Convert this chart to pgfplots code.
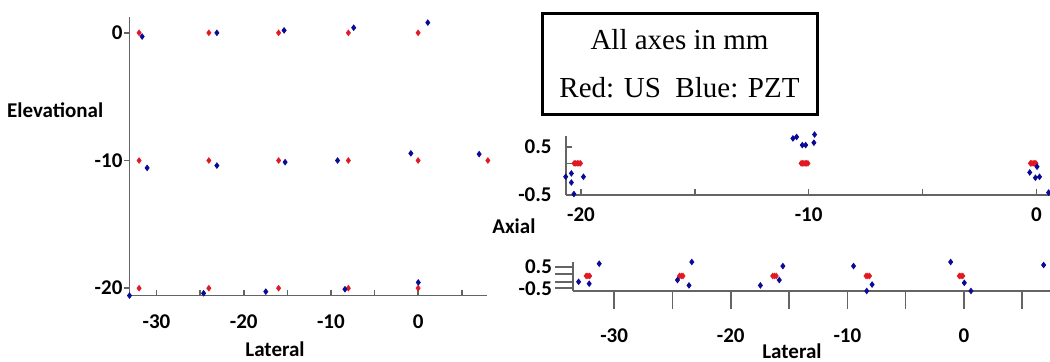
\documentclass[border=0pt]{standalone}
\usepackage{pgfplots}
\pgfplotsset{compat=1.18}
\usepackage{fontspec}
\setmainfont{Liberation Serif}
\newfontfamily\calfont{Carlito}
\definecolor{ured}{RGB}{225,25,35}
\definecolor{pblue}{RGB}{10,10,150}
\definecolor{axgray}{RGB}{100,100,100}
\pgfplotsset{
  base/.style={
    scale only axis, clip=false,
    axis x line*=bottom, axis y line*=left,
    axis line style={axgray, line width=0.8pt},
    tick style={axgray, line width=0.8pt},
    tick align=inside,
    major tick length=3pt, minor tick length=3pt,
    tick label style={font=\calfont\bfseries\fontsize{10.5}{12}\selectfont},
    label style={font=\calfont\bfseries\fontsize{10.5}{12}\selectfont},
  },
  us/.style={only marks, mark=diamond*, mark size=1.35pt, color=ured},
  pzt/.style={only marks, mark=diamond*, mark size=1.35pt, color=pblue},
}
\begin{document}
\begin{tikzpicture}
\useasboundingbox (0,0) rectangle (525pt,181pt);
% ---------------- left panel: Lateral vs Elevational
\begin{axis}[base, at={(64.75pt,33.2pt)}, anchor=south west,
  width=178.75pt, height=139.3pt,
  xmin=-33.1, xmax=7.9, ymin=-20.58, ymax=1.24,
  xtick={-30,-20,-10,0}, xticklabels={-30,-20,-10,0},
  minor xtick={-25,-15,-5,5},
  ytick={-20,-10,0}, yticklabels={-20,-10,0},
  every major y tick/.append style={xshift=-3pt},
  xticklabel style={yshift=-6pt},
  xlabel={Lateral}, ylabel={Elevational},
  xlabel style={at={(axis description cs:0.407,-0.192)}, anchor=center},
  ylabel style={at={(axis description cs:-0.208,0.666)}, anchor=center, rotate=-90},
]
\addplot[us] coordinates {
(-32,0) (-24,0) (-16,0) (-8,0) (0,0)
(-32,-10) (-24,-10) (-16,-10) (-8,-10) (0,-10) (8,-10)
(-32,-20) (-24,-20) (-16,-20) (-8,-20) (0,-20)};
\addplot[pzt] coordinates {
(-31.65,-0.29) (-23.08,0) (-15.37,0.19) (-7.39,0.40) (1.11,0.80)
(-31.08,-10.58) (-23.08,-10.40) (-15.25,-10.13) (-9.24,-10.0) (-0.83,-9.44) (7.0,-9.5)
(-33.1,-20.58) (-24.6,-20.40) (-17.47,-20.27) (-8.39,-20.08) (0.02,-19.55)};
\end{axis}
% ---------------- top right: Elevational vs Axial
\begin{axis}[base, at={(282.85pt,83.5pt)}, anchor=south west,
  width=242.15pt, height=29.5pt,
  xmin=-20.67, xmax=0.6, ymin=-0.5, ymax=0.73,
  xtick={-20,-10,0}, xticklabels={-20,-10,0},
  minor xtick={-15,-5},
  ytick={-0.5,0.16,0.5}, yticklabels={-0.5,,0.5},
  xticklabel style={yshift=-2.6pt},
  yticklabel style={xshift=-3.5pt},
  ylabel={Axial},
  ylabel style={at={(axis description cs:-0.107,-0.525)}, anchor=center, rotate=-90},
]
\addplot[us] coordinates {
(-20.30,0.16) (-20.23,0.16) (-20.16,0.16) (-20.09,0.16) (-20.02,0.16)
(-10.33,0.16) (-10.27,0.16) (-10.21,0.16) (-10.15,0.16) (-10.09,0.16) (-10.03,0.16)
(-0.26,0.16) (-0.20,0.16) (-0.14,0.16) (-0.08,0.16) (-0.02,0.16)};
\addplot[pzt] coordinates {
(-20.67,-0.12) (-20.42,-0.05) (-20.42,-0.24) (-20.31,-0.48) (-19.89,-0.12)
(-10.69,0.68) (-10.53,0.71) (-10.28,0.54) (-10.13,0.54) (-9.74,0.76) (-9.77,0.59)
(0.03,0.09) (-0.29,-0.03) (-0.04,-0.14) (0.14,-0.12) (0.54,-0.45)};
\end{axis}
% ---------------- bottom right: Lateral vs Axial
\begin{axis}[base, at={(286.5pt,35.5pt)}, anchor=south west,
  width=238.5pt, height=14.5pt,
  xmin=-33.53, xmax=7.38, ymin=-0.63, ymax=0.72,
  tick align=outside, major tick length=9pt, minor tick length=9pt,
  xtick={-30,-20,-10,0}, xticklabels={-30,-20,-10,0},
  minor xtick={-25,-15,-5,5},
  ytick={-0.5,-0.2,0.16,0.5}, yticklabels={-0.5,,,0.5},
  xticklabel style={yshift=-6.5pt},
  yticklabel style={xshift=2pt},
  xlabel={Lateral},
  xlabel style={at={(axis description cs:0.459,-2.08)}, anchor=center},
]
\addplot[us] coordinates {
(-32.4,0.07) (-32.25,0.07) (-32.1,0.07)
(-24.4,0.07) (-24.25,0.07) (-24.1,0.07)
(-16.4,0.07) (-16.25,0.07) (-16.1,0.07)
(-8.4,0.07) (-8.25,0.07) (-8.1,0.07)
(-0.4,0.07) (-0.25,0.07) (-0.1,0.07)
(7.6,0.07) (7.75,0.07) (7.9,0.07)};
\addplot[pzt] coordinates {
(-33.05,-0.20) (-32.14,-0.29) (-31.28,0.64)
(-24.57,-0.12) (-23.58,-0.37) (-23.34,0.72)
(-17.46,-0.37) (-15.84,-0.12) (-15.53,0.53)
(-9.47,0.53) (-8.34,-0.63) (-7.88,-0.33)
(-1.14,0.72) (0.03,-0.25) (0.6,-0.63)
(6.83,0.58)};
\end{axis}
% ---------------- text box
\draw[line width=1.5pt] (271pt,123.5pt) rectangle (408.5pt,174pt);
\node[font=\fontsize{14.5}{17}\selectfont] at (339.75pt,161pt) {All axes in mm};
\node[font=\fontsize{14.5}{17}\selectfont] at (339.75pt,137pt) {Red: US\ \ Blue: PZT};
\end{tikzpicture}
\end{document}
